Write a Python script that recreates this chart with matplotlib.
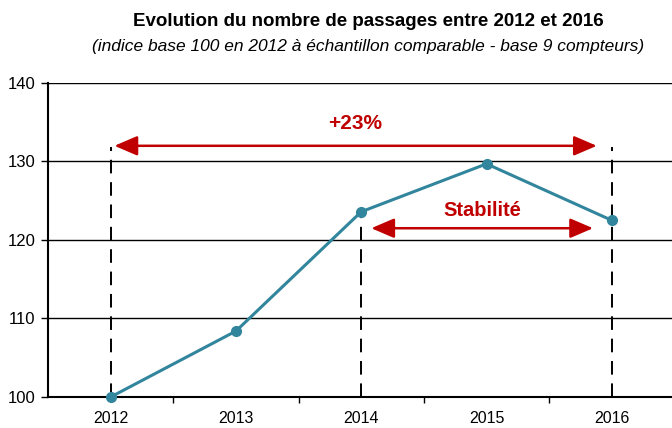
import matplotlib
matplotlib.use("Agg")
import matplotlib.pyplot as plt
from matplotlib import font_manager

years = ["2012", "2013", "2014", "2015", "2016"]
values = [100.0, 108.4, 123.6, 129.7, 122.5]
yticks = [100, 110, 120, 130, 140]

names = {f.name for f in font_manager.fontManager.ttflist}
fam = ['Liberation Sans Narrow', 'DejaVu Sans'] if 'Liberation Sans Narrow' in names else ['Liberation Sans', 'DejaVu Sans']
plt.rcParams['font.family'] = fam

W, H = 672, 428
fig = plt.figure(figsize=(W / 100, H / 100), dpi=100)
ax = fig.add_axes([48 / W, 31 / H, (W - 48) / W, (397 - 83) / H])

x = list(range(len(years)))
red = "#C00000"
teal = "#31859C"

ax.set_xlim(-0.5, 4.48)
ax.set_ylim(100, 140)
ax.set_yticks(yticks)
ax.set_yticklabels([str(v) for v in yticks], fontsize=12)
ax.yaxis.grid(True, color="black", linewidth=1.0)
ax.set_axisbelow(True)

ax.set_xticks([i + 0.5 for i in range(len(years) - 1)])
ax.set_xticklabels([])
ax.set_xticks(x, minor=True)
ax.set_xticklabels(years, minor=True, fontsize=11.5)
ax.tick_params(axis='x', which='minor', length=0, pad=10)
ax.tick_params(axis='x', which='major', length=4, width=1, direction='out')
ax.tick_params(axis='y', length=5, width=1, direction='out', pad=4)

for s in ["top", "right"]:
    ax.spines[s].set_visible(False)
ax.spines["left"].set_linewidth(1.5)
ax.spines["bottom"].set_linewidth(1.5)

# dashed reference lines
dash = (0, (7, 4.5))
ax.plot([0, 0], [100, 131.8], color="black", linestyle=dash, linewidth=1.4, zorder=2)
ax.plot([2, 2], [100, values[2]], color="black", linestyle=dash, linewidth=1.4, zorder=2)
ax.plot([4, 4], [100, 131.8], color="black", linestyle=dash, linewidth=1.4, zorder=2)

ax.plot(x, values, color=teal, linewidth=2.2, marker="o", markersize=7, zorder=4, clip_on=False)

# arrows
ax.annotate("", xy=(0.03, 132.0), xytext=(3.88, 132.0),
            arrowprops=dict(arrowstyle="<|-|>,head_length=0.7,head_width=0.3", color=red, lw=1.8,
                            mutation_scale=20, shrinkA=0, shrinkB=0), zorder=5)
ax.text(1.95, 134.9, "+23%", color=red, fontsize=15, fontweight="bold", ha="center", va="center")
ax.annotate("", xy=(2.08, 121.5), xytext=(3.85, 121.5),
            arrowprops=dict(arrowstyle="<|-|>,head_length=0.7,head_width=0.3", color=red, lw=1.8,
                            mutation_scale=20, shrinkA=0, shrinkB=0), zorder=5)
ax.text(2.97, 123.8, "Stabilité", color=red, fontsize=14.5, fontweight="bold", ha="center", va="center")

fig.text(368 / W, 1 - 22 / H, "Evolution du nombre de passages entre 2012 et 2016",
         ha="center", va="center", fontsize=13.5, fontweight="bold")
fig.text(368 / W, 1 - 47 / H, "(indice base 100 en 2012 à échantillon comparable - base 9 compteurs)",
         ha="center", va="center", fontsize=12.5, style="italic")

fig.savefig("out.png", dpi=100)
